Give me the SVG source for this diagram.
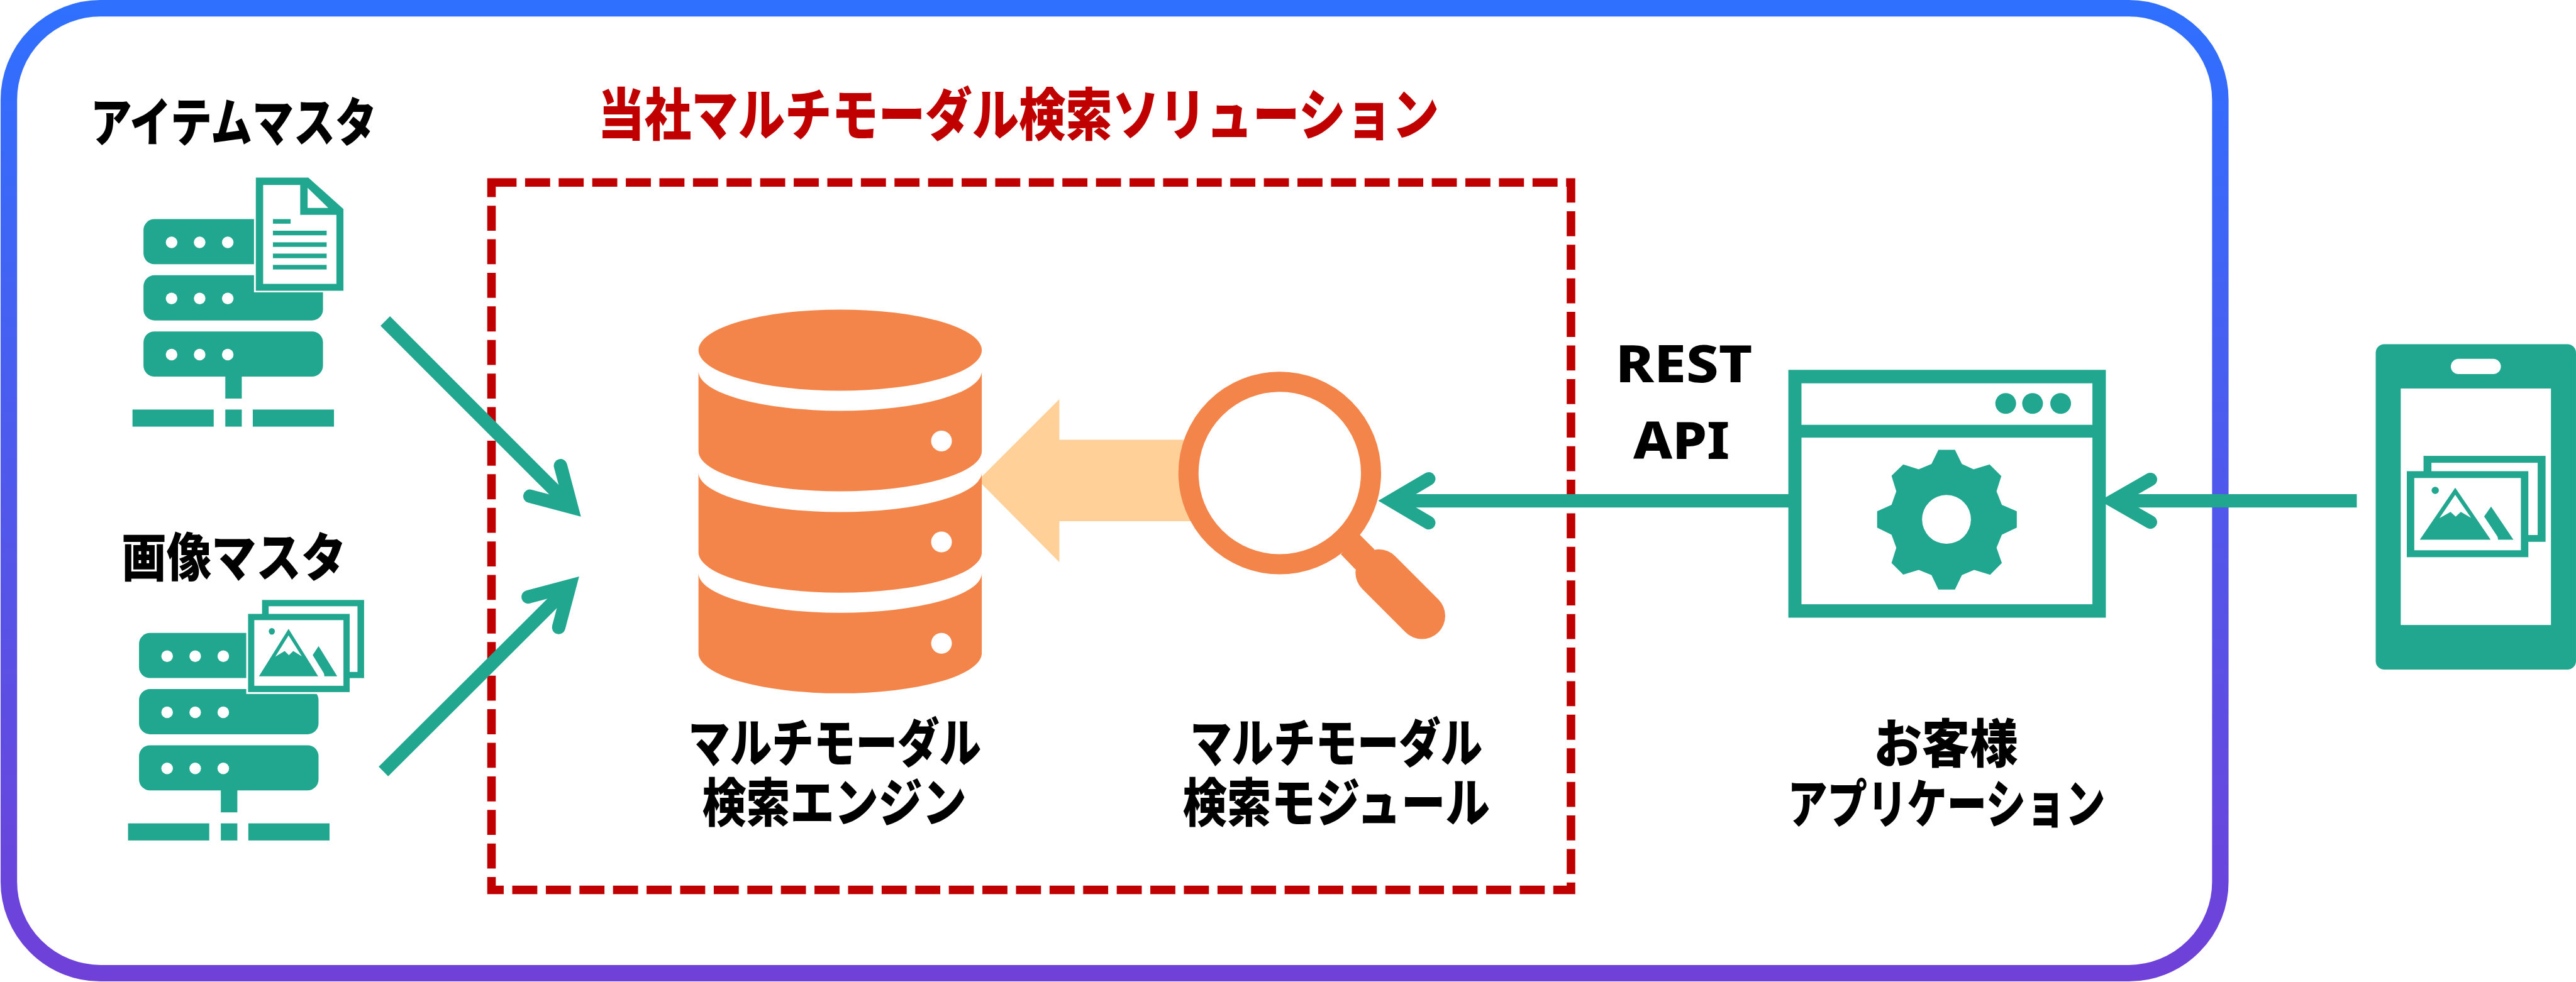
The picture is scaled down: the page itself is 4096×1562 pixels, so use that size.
<svg xmlns="http://www.w3.org/2000/svg" xmlns:xlink="http://www.w3.org/1999/xlink" width="4096" height="1562" viewBox="0 0 4096 1562">
<style>
.g{fill:#21A68F}.w{fill:#fff}.o{fill:#F4854A}
.t{font-family:"Liberation Sans","Noto Sans CJK JP",sans-serif;font-weight:900;font-size:86px;fill:#000}
.l{font-family:"Noto Sans","Liberation Sans",sans-serif;font-weight:800;font-size:85px;fill:#000}
.arrow{fill:none;stroke:#21A68F;stroke-width:22}
.head{fill:none;stroke:#21A68F;stroke-width:22;stroke-linecap:round;stroke-linejoin:miter;stroke-miterlimit:10}
</style>
<defs>
<linearGradient id="bd" gradientUnits="userSpaceOnUse" x1="0" y1="0" x2="0" y2="1609">
<stop offset="0" stop-color="#2F70FF"/><stop offset="1" stop-color="#7040D8"/>
</linearGradient>
<g id="server">
<rect class="g" x="235" y="359" width="294" height="74" rx="18"/>
<rect class="g" x="235" y="451" width="294" height="74" rx="18"/>
<rect class="g" x="235" y="543" width="294" height="74" rx="18"/>
<g class="w">
<circle cx="281" cy="397" r="9.5"/><circle cx="327" cy="397" r="9.5"/><circle cx="373" cy="397" r="9.5"/>
<circle cx="281" cy="489" r="9.5"/><circle cx="327" cy="489" r="9.5"/><circle cx="373" cy="489" r="9.5"/>
<circle cx="281" cy="581" r="9.5"/><circle cx="327" cy="581" r="9.5"/><circle cx="373" cy="581" r="9.5"/>
</g>
<rect class="g" x="369" y="616" width="27" height="37"/>
<rect class="g" x="217" y="671" width="133" height="28"/>
<rect class="g" x="369" y="671" width="27" height="28"/>
<rect class="g" x="414" y="671" width="133" height="28"/>
</g>
<g id="pic">
<rect class="g" x="429.2" y="983" width="167.1" height="128"/>
<rect class="w" x="440" y="993.3" width="145.5" height="107.6"/>
<rect class="g" x="406.3" y="1005.8" width="166.4" height="128.1"/>
<rect class="w" x="416.5" y="1016" width="146" height="107.6"/>
<polygon class="g" points="472.6,1030.3 424.1,1108 521.1,1108"/>
<polygon class="w" points="472.6,1041 450.9,1075.9 466.2,1066.5 473.2,1073.6 480.3,1066.5 494.3,1075.4"/>
<polygon class="g" points="521.7,1058.5 552.3,1108 531.3,1108 530.6,1103.5 512.2,1073.2"/>
<ellipse class="g" cx="445.2" cy="1034.4" rx="5" ry="5.4"/>
</g>
<path id="seg" class="o" d="M1144 608A232 65 0 0 0 1608 608V739A232 66 0 0 1 1144 739Z"/>
</defs>
<g transform="scale(0.97084)">
<rect id="frame" x="14.5" y="13.5" width="3622" height="1581" rx="150" fill="#fff" stroke="url(#bd)" stroke-width="27"/>

<g id="solution">
<rect x="805" y="299" width="1768" height="1159" fill="none" stroke="#C00000" stroke-width="14" stroke-dasharray="41 14"/>
<text class="t" style="fill:#C00000;font-size:92px" x="979" y="221" textLength="1378" lengthAdjust="spacingAndGlyphs">当社マルチモーダル検索ソリューション</text>
</g>

<g id="connectors">
<polygon fill="#FFD097" points="1602,787 1735,654 1735,720.5 1990,720.5 1990,854 1735,854 1735,921"/>
<line class="arrow" x1="631" y1="526" x2="936" y2="831"/>
<polyline class="head" points="918,763 936,831 868,813"/>
<line class="arrow" x1="628" y1="1264" x2="933" y2="960"/>
<polyline class="head" points="865,978 933,960 915,1028"/>
<line class="arrow" x1="2279" y1="820.5" x2="2940" y2="820.5"/>
<polyline class="head" points="2340,784.5 2279,820.5 2340,856.5"/>
<line class="arrow" x1="3461" y1="820.5" x2="3860" y2="820.5"/>
<polyline class="head" points="3522,785.5 3461,820.5 3522,855.5"/>
</g>

<g id="item-master">
<use xlink:href="#server" href="#server"/>
<polygon class="w" points="416,288 505,288 566,342 566,479 416,479"/>
<polygon class="g" points="419,291 505,291 562.5,342.4 562.5,476.3 419,476.3"/>
<polygon class="w" points="431,303 491.7,303 491.7,352 551,352 551,465 431,465"/>
<polygon class="w" points="503.8,307.6 537.6,340.6 503.8,340.6"/>
<rect class="g" x="447" y="359" width="29" height="7.5"/>
<rect class="g" x="447" y="378" width="88" height="7.5"/>
<rect class="g" x="447" y="397" width="88" height="7.5"/>
<rect class="g" x="447" y="415.5" width="88" height="7.5"/>
<rect class="g" x="447" y="434" width="88" height="7.5"/>
<text class="t" x="148" y="232" textLength="469" lengthAdjust="spacingAndGlyphs">アイテムマスタ</text>
</g>

<g id="image-master">
<use xlink:href="#server" href="#server" transform="translate(-7.3 678)"/>
<rect class="w" x="403.3" y="1003" width="172" height="134"/>
<use xlink:href="#pic" href="#pic"/>
<text class="t" x="199" y="945" textLength="368" lengthAdjust="spacingAndGlyphs">画像マスタ</text>
</g>

<g id="search-engine">
<ellipse class="o" cx="1376" cy="573.7" rx="232" ry="66.5"/>
<use xlink:href="#seg" href="#seg"/>
<use xlink:href="#seg" href="#seg" transform="translate(0 166)"/>
<use xlink:href="#seg" href="#seg" transform="translate(0 331)"/>
<circle class="w" cx="1542" cy="722.5" r="17"/>
<circle class="w" cx="1542" cy="888" r="17"/>
<circle class="w" cx="1542" cy="1054" r="17"/>
<text class="t" x="1127" y="1248" textLength="480" lengthAdjust="spacingAndGlyphs">マルチモーダル</text>
<text class="t" x="1150" y="1346" textLength="433" lengthAdjust="spacingAndGlyphs">検索エンジン</text>
</g>

<g id="search-module">
<polygon class="o" points="2196,908 2227,876 2251,900 2220,933"/>
<line x1="2258" y1="938" x2="2329" y2="1009" stroke="#F4854A" stroke-width="76" stroke-linecap="round"/>
<circle cx="2096" cy="775" r="149.5" fill="#fff" stroke="#F4854A" stroke-width="33"/>
<text class="t" x="1949" y="1248" textLength="479" lengthAdjust="spacingAndGlyphs">マルチモーダル</text>
<text class="t" x="1937" y="1346" textLength="503" lengthAdjust="spacingAndGlyphs">検索モジュール</text>
</g>

<g id="rest-api">
<text class="l" x="2646" y="626.5" textLength="224" lengthAdjust="spacingAndGlyphs">REST</text>
<text class="l" x="2675" y="751.5" textLength="158" lengthAdjust="spacingAndGlyphs">API</text>
</g>

<g id="customer-app">
<rect class="g" x="2929" y="606" width="520" height="406"/>
<rect class="w" x="2950.5" y="628" width="476.5" height="68"/>
<rect class="w" x="2950.5" y="717" width="476.5" height="273"/>
<circle class="g" cx="3285" cy="661" r="17"/><circle class="g" cx="3329" cy="661" r="17"/><circle class="g" cx="3375" cy="661" r="17"/>
<polygon class="g" transform="translate(2850 550) scale(.8731 .38265)" points="372,489 403,489 416,549 438,572 468,551 490,601 481,666 491,724 519,752 519,822 491,852 481,908 491,973 469,1024 439,1003 416,1025 403,1087 372,1087 359,1025 335,1003 306,1023 284,973 293,908 284,852 257,822 257,752 284,724 293,666 284,600 306,551 335,572 359,549"/>
<circle class="w" cx="3188" cy="851" r="40"/>
<text class="t" x="3069" y="1249" textLength="236" lengthAdjust="spacingAndGlyphs">お客様</text>
<text class="t" x="2928" y="1348" textLength="520" lengthAdjust="spacingAndGlyphs">アプリケーション</text>
</g>

<g id="phone">
<rect class="g" x="3891" y="564" width="328" height="533" rx="14"/>
<rect class="w" x="3932" y="636.5" width="246" height="387.5"/>
<rect class="w" x="4014" y="588" width="82" height="25" rx="12.5"/>
<use xlink:href="#pic" href="#pic" transform="translate(3456 -334.4) scale(1.196 1.1)"/>
</g>
</g>
</svg>
